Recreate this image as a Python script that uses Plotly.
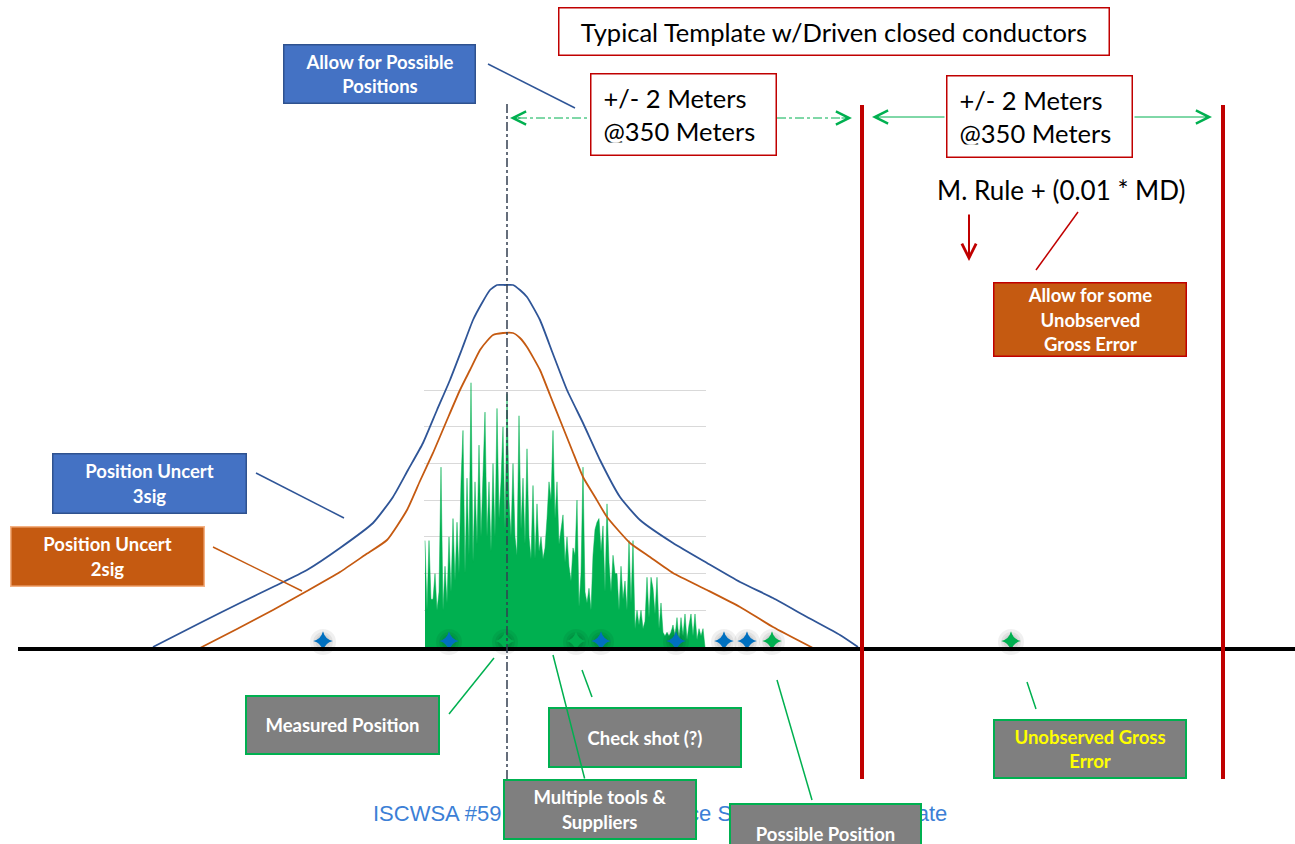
import plotly.graph_objects as go

W, H = 1295, 844

# ---------------- data ----------------
# 3-sigma and 2-sigma position uncertainty envelopes (diagram units = px)
sig3_x = [153, 200, 240, 275, 307, 340, 373, 393, 408, 423, 437, 450, 462, 473, 482, 490,
          497, 505, 513, 520, 527, 540, 553, 567, 583, 600, 620, 640, 673, 707, 740, 773,
          807, 840, 858]
sig3_y = [647, 623, 603, 586, 570, 548, 523, 497, 470, 443, 410, 380, 349, 320, 303, 290,
          285, 285, 285, 290, 297, 320, 354, 390, 423, 460, 497, 520, 543, 563, 582, 598,
          617, 635, 647]
sig2_x = [200, 237, 273, 307, 340, 365, 387, 407, 420, 433, 447, 460, 470, 480, 487, 493,
          503, 513, 520, 527, 540, 550, 560, 572, 583, 595, 607, 630, 650, 673, 707, 740,
          773, 813]
sig2_y = [648, 629, 610, 591, 572, 555, 540, 510, 481, 453, 420, 390, 370, 350, 341, 335,
          333, 333, 338, 347, 370, 395, 420, 450, 477, 497, 517, 543, 557, 573, 590, 607,
          627, 648]

# histogram of measured positions (values in grid units, sampled every 2 px from x=425)
HIST_X0, HIST_STEP = 425, 2
hist_vals = [2.9, 1.0, 2.9, 1.3, 1.3, 2.0, 1.0, 1.5, 4.9, 1.0,
             2.2, 1.2, 3.0, 1.5, 3.5, 1.8, 3.4, 2.0, 4.5, 5.9,
             2.0, 4.6, 2.5, 7.2, 2.3, 4.5, 2.8, 5.5, 3.0, 4.7,
             6.4, 3.0, 4.5, 2.6, 5.0, 3.0, 6.5, 3.5, 4.5, 6.0,
             3.2, 6.9, 4.0, 3.0, 5.0, 3.0, 2.5, 6.3, 3.2, 4.6,
             2.8, 5.4, 3.0, 2.4, 4.4, 2.4, 3.9, 2.6, 3.0, 2.4,
             2.7, 3.5, 4.5, 4.0, 5.9, 3.5, 4.5, 2.8, 3.2, 3.6,
             2.3, 3.0, 2.2, 1.8, 2.7, 2.5, 4.0, 1.1, 2.0, 4.9,
             1.5, 1.2, 1.6, 1.0, 2.5, 3.2, 3.4, 3.5, 2.6, 3.3,
             1.5, 3.9, 2.3, 1.5, 2.5, 2.0, 2.0, 1.0, 2.2, 1.3,
             1.8, 1.0, 2.9, 1.2, 2.9, 0.5, 1.0, 0.6, 1.0, 0.5,
             0.7, 1.9, 0.8, 1.9, 1.6, 0.9, 1.9, 0.5, 1.2, 0.4,
             0.3, 0.4, 0.3, 0.4, 0.6, 0.3, 0.8, 0.2, 0.8, 0.3,
             0.9, 0.2, 0.6, 0.9, 0.3, 0.9, 0.2, 0.5, 0.3, 0.5, 0.0]
hist_x = [HIST_X0 + HIST_STEP * i for i in range(len(hist_vals))]
HIST_GRID_PX = 36.7          # px per grid unit
HIST_BASE = 647              # baseline px
HIST_MAX = 7.5

# survey stations (stars)
blue_star_x = [323, 449, 601, 676, 724, 747]
green_star_x = [505, 576, 772, 1011]
STAR_Y = 641

# ---------------- figure ----------------
FONT = "Lato"
BLUE_LINE = "#2F5597"
ORANGE = "#C55A11"
RED = "#C00000"
GREEN = "#00B050"
D = dict(xaxis="x2", yaxis="y2")   # full-page diagram axes

fig = go.Figure()

# inset histogram (subplot xy, drawn first)
fig.add_trace(go.Scatter(x=hist_x, y=hist_vals, mode="lines",
                         line=dict(color=GREEN, width=0.5), fill="tozeroy",
                         fillcolor=GREEN, hoverinfo="skip", showlegend=False))

fig.add_trace(go.Scatter(x=sig3_x, y=sig3_y, mode="lines", **D,
                         line=dict(color=BLUE_LINE, width=1.8, shape="spline", smoothing=0.5),
                         hoverinfo="skip", showlegend=False))
fig.add_trace(go.Scatter(x=sig2_x, y=sig2_y, mode="lines", **D,
                         line=dict(color=ORANGE, width=1.8, shape="spline", smoothing=0.5),
                         hoverinfo="skip", showlegend=False))

all_star_x = blue_star_x + green_star_x
for sz in (26, 20, 15):
    fig.add_trace(go.Scatter(x=all_star_x, y=[STAR_Y + 1] * len(all_star_x), mode="markers", **D,
                             marker=dict(symbol="circle", size=sz, color="rgba(0,0,0,0.06)",
                                         line=dict(width=0)),
                             hoverinfo="skip", showlegend=False))
fig.add_trace(go.Scatter(x=blue_star_x, y=[STAR_Y] * len(blue_star_x), mode="markers", **D,
                         marker=dict(symbol="star-diamond", size=14, color="#0070C0",
                                     line=dict(width=0)),
                         hoverinfo="skip", showlegend=False))
fig.add_trace(go.Scatter(x=green_star_x, y=[STAR_Y] * len(green_star_x), mode="markers", **D,
                         marker=dict(symbol="star-diamond", size=14, color=GREEN,
                                     line=dict(width=0)),
                         hoverinfo="skip", showlegend=False))

shapes = []


def line(x0, y0, x1, y1, color, width, dash="solid"):
    shapes.append(dict(type="line", xref="x2", yref="y2", x0=x0, y0=y0, x1=x1, y1=y1,
                       line=dict(color=color, width=width, dash=dash), layer="above"))


# ground / baseline
line(18, 649, W, 649, "black", 4)
# template limits
line(862, 105, 862, 779, RED, 4)
line(1223, 105, 1223, 779, RED, 4)
# measured position axis
line(507, 104, 507, 779, "#333F50", 1.5, "dashdot")
# tolerance dimension lines
line(518, 118, 590, 118, GREEN, 1, "dashdot")
line(777, 118, 842, 118, GREEN, 1, "dashdot")
# callout leaders
line(488, 64, 575, 108, BLUE_LINE, 1.5)
line(256, 473, 344, 518, BLUE_LINE, 1.5)
line(213, 547, 302, 591, ORANGE, 1.5)
line(1078, 212, 1036, 270, RED, 1.5)
line(449, 714, 494, 658, GREEN, 1.5)
line(582, 670, 592, 697, GREEN, 1.5)
line(777, 680, 812, 800, GREEN, 1.5)
line(1027, 682, 1036, 709, GREEN, 1.5)

annotations = []


def arrow(x_tip, y_tip, x_tail, y_tail, color, width, size, head=5):
    annotations.append(dict(x=x_tip, y=y_tip, ax=x_tail, ay=y_tail, xref="x2", yref="y2",
                            axref="x2", ayref="y2", text="", showarrow=True, arrowhead=head,
                            arrowsize=size, arrowwidth=width, arrowcolor=color,
                            standoff=0, startstandoff=0))


arrow(510, 118, 522, 118, GREEN, 1, 2.6)
arrow(852, 118, 840, 118, GREEN, 1, 2.6)
arrow(872, 117, 946, 117, GREEN, 1, 2.6)
arrow(1212, 117, 1133, 117, GREEN, 1, 2.6)
arrow(969, 261, 969, 213, RED, 2, 1.4)

# background footer text (partly hidden by callout boxes)
annotations.append(dict(x=371, y=813, xref="x2", yref="y2", xanchor="left", yanchor="middle",
                        text="ISCWSA #59 - Collision Avoidance Sub-Committee Update",
                        showarrow=False,
                        font=dict(family="Liberation Sans, Arial", size=22, color="#3C7FD6")))


def box(x0, y0, x1, y1, text, bg, border, fc, fs, bw=1.5, align="center", pad=0,
        family=FONT):
    annotations.append(dict(x=(x0 + x1) / 2, y=(y0 + y1) / 2, xref="x2", yref="y2",
                            xanchor="center", yanchor="middle", text=text, showarrow=False,
                            width=x1 - x0 - 2 * bw - 2 * pad, height=y1 - y0 - 2 * bw - 2 * pad,
                            borderpad=pad, borderwidth=bw, bgcolor=bg, bordercolor=border,
                            align=align, valign="middle",
                            font=dict(family=family, size=fs, color=fc)))


BF = 18.5
box(558, 7, 1110, 56, "Typical Template w/Driven closed conductors", "white", RED, "black", 25.5)
box(283, 44, 476, 104, "<b>Allow for Possible<br>Positions</b>", "#4472C4", "#2F528F", "white", BF)
box(590, 73, 777, 156, "+/- 2 Meters<br>@350 Meters", "white", RED, "black", 25.5,
    align="left", pad=12)
box(946, 75, 1133, 158, "+/- 2 Meters<br>@350 Meters", "white", RED, "black", 25.5,
    align="left", pad=12)
annotations.append(dict(x=1061, y=190, xref="x2", yref="y2", text="M. Rule + (0.01 * MD)",
                        showarrow=False, font=dict(family=FONT, size=26, color="black")))
box(993, 282, 1187, 357, "<b>Allow for some<br>Unobserved<br>Gross Error</b>",
    ORANGE, RED, "white", BF)
box(52, 453, 247, 514, "<b>Position Uncert<br>3sig</b>", "#4472C4", "#2F528F", "white", BF)
box(10, 526, 205, 587, "<b>Position Uncert<br>2sig</b>", ORANGE, "#F4B183", "white", BF)
box(245, 695, 440, 755, "<b>Measured Position</b>", "#7F7F7F", GREEN, "white", BF, bw=2)
box(548, 707, 742, 768, "<b>Check shot (?)</b>", "#7F7F7F", GREEN, "white", BF, bw=2)
# leader for "Multiple tools" passes over the check-shot box
arrow(553, 655, 585, 780, GREEN, 1.5, 1, head=0)
box(503, 779, 697, 840, "<b>Multiple tools &amp;<br>Suppliers</b>", "#7F7F7F", GREEN,
    "white", BF, bw=2)
box(729, 803, 922, 864, "<b>Possible Position</b>", "#7F7F7F", GREEN, "white", BF, bw=2)
box(993, 719, 1187, 779, "<b>Unobserved Gross<br>Error</b>", "#7F7F7F", GREEN,
    "#FFFF00", BF, bw=2)

fig.update_layout(
    width=W, height=H, margin=dict(l=0, r=0, t=0, b=0),
    paper_bgcolor="white", plot_bgcolor="rgba(0,0,0,0)", showlegend=False,
    xaxis=dict(range=[424, 706], domain=[424 / W, 706 / W], anchor="y", visible=False),
    yaxis=dict(range=[0, HIST_MAX], anchor="x",
               domain=[1 - HIST_BASE / H, 1 - (HIST_BASE - HIST_MAX * HIST_GRID_PX) / H],
               showgrid=True, gridcolor="#D9D9D9", gridwidth=1, dtick=1,
               showticklabels=False, zeroline=False, showline=False, ticks=""),
    xaxis2=dict(range=[0, W], visible=False, domain=[0, 1], anchor="y2", fixedrange=True),
    yaxis2=dict(range=[H, 0], visible=False, domain=[0, 1], anchor="x2", fixedrange=True),
    shapes=shapes, annotations=annotations,
)

fig.write_html("out.html", config={"displayModeBar": False},
               post_script="document.body.style.margin='0';document.body.style.overflow='hidden';")
